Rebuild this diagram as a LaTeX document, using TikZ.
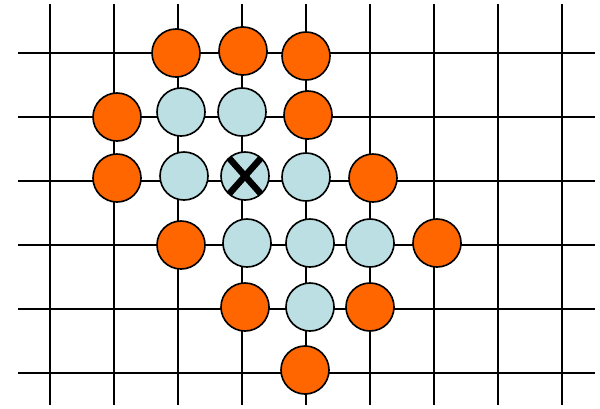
\documentclass[tikz,border=0pt]{standalone}
\definecolor{stoneorange}{HTML}{FF6600}
\definecolor{stoneblue}{HTML}{BBDFE2}
\begin{document}
\begin{tikzpicture}[
  x=0.03cm, y=-0.03cm,
  stone/.style={circle, draw, line width=1.4pt, minimum size=1.44cm, inner sep=0pt},
  ostone/.style={stone, fill=stoneorange},
  bstone/.style={stone, fill=stoneblue},
  line width=1.6pt
]
  \useasboundingbox (0,0) rectangle (600,408);

  % board lines
  \foreach \y in {53,117,...,373}
    \draw (18,\y) -- (595,\y);
  \foreach \x in {50,114,...,562}
    \draw (\x,4) -- (\x,405);

  % orange stones
  \node[ostone] (o1) at (176,53) {};
  \node[ostone] (o2) at (243,51) {};
  \node[ostone] (o3) at (306,56) {};
  \node[ostone] (o4) at (117,117) {};
  \node[ostone] (o5) at (308,115) {};
  \node[ostone] (o6) at (117,178) {};
  \node[ostone] (o7) at (373,178) {};
  \node[ostone] (o8) at (181,245) {};
  \node[ostone] (o9) at (437,243) {};
  \node[ostone] (o10) at (245,307) {};
  \node[ostone] (o11) at (370,307) {};
  \node[ostone] (o12) at (305,370) {};

  % blue stones
  \node[bstone] (b1) at (181,112) {};
  \node[bstone] (b2) at (242,112) {};
  \node[bstone] (b3) at (184,176) {};
  \node[bstone] (bx) at (245,176) {};
  \node[bstone] (b4) at (306,177) {};
  \node[bstone] (b5) at (247,243) {};
  \node[bstone] (b6) at (310,243) {};
  \node[bstone] (b7) at (370,243) {};
  \node[bstone] (b8) at (310,307) {};

  % cross on the marked stone
  \draw[line width=5.5pt] (bx.center) ++(-16,-18) -- ++(32,36);
  \draw[line width=5.5pt] (bx.center) ++(16,-18) -- ++(-32,36);
\end{tikzpicture}
\end{document}
